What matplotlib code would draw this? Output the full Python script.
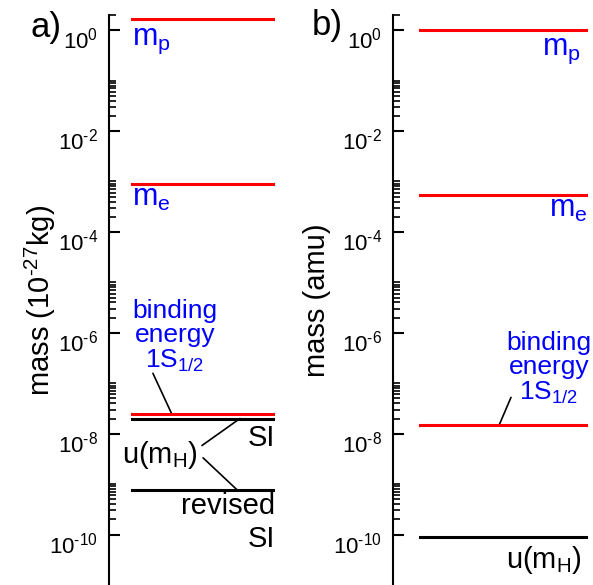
import numpy as np
import matplotlib
matplotlib.use('Agg')
from matplotlib import pyplot as plt
from matplotlib import transforms
from matplotlib.ticker import FixedLocator, FuncFormatter

plt.rcParams['font.family'] = ['Liberation Sans', 'DejaVu Sans']
plt.rcParams['mathtext.fontset'] = 'custom'
plt.rcParams['mathtext.rm'] = 'Liberation Sans'
plt.rcParams['mathtext.it'] = 'Liberation Sans:italic'

# data: panel a in 10^-27 kg, panel b in amu
mp_kg = 1.6726
me_kg = 9.11e-4
bind_kg = 2.42e-8
uh_si_kg = 2.0e-8
uh_rev_kg = 7.7e-10

mp_amu = 1.00728
me_amu = 5.486e-4
bind_amu = 1.46e-8
uh_amu = 9.1e-11

major_ticks = [1e0, 1e-2, 1e-4, 1e-6, 1e-8, 1e-10]
minor_ticks = []
for k in [1, -1, -3, -5, -7, -9]:
    minor_ticks += [j * 10.0**(k - 1) for j in range(2, 10)] + [10.0**k]

RED = '#ff0000'
BLUE = '#0000ff'
HY = '\u2010'  # short hyphen instead of the long math minus

fig = plt.figure(figsize=(5.93, 5.85), dpi=100)
H = 585.0
W = 593.0


def fmt(v, p):
    e = int(round(np.log10(v)))
    s = str(e).replace('-', HY)
    return r'$\mathregular{10^{%s}}$' % s


def setup(ax, label, lab_x):
    ax.set_yscale('log')
    ax.set_ylim(1e-11, 2)
    ax.set_xlim(0, 1)
    ax.xaxis.set_visible(False)
    for s in ['top', 'right', 'bottom']:
        ax.spines[s].set_visible(False)
    ax.spines['left'].set_linewidth(1.5)
    ax.yaxis.set_major_locator(FixedLocator(major_ticks))
    ax.yaxis.set_minor_locator(FixedLocator(minor_ticks))
    ax.yaxis.set_major_formatter(FuncFormatter(fmt))
    ax.yaxis.set_minor_formatter(FuncFormatter(lambda v, p: ''))
    ax.tick_params(axis='y', which='major', direction='in', length=8, width=1.5, labelsize=16, pad=8)
    ax.tick_params(axis='y', which='minor', direction='in', length=5, width=1.2)
    ax.patch.set_visible(False)
    ax.set_ylabel(label, fontsize=21)
    ax.yaxis.set_label_coords(lab_x, 0.5)
    off = transforms.ScaledTranslation(0, -8 / 100, fig.dpi_scale_trans)
    for t in ax.get_yticklabels():
        t.set_transform(t.get_transform() + off)


def pt(px):
    return px * 0.72


line_kw = dict(arrowstyle='-', lw=1.2, color='black', shrinkA=0, shrinkB=0)

# ---- panel a ----
axa = fig.add_axes([109 / W, 0, 171 / W, 570 / H])
setup(axa, r'mass ($\mathregular{10^{%s27}}$kg)' % HY, -0.30)
ta = transforms.blended_transform_factory(axa.transAxes, axa.transData)
x0, x1 = 0.135, 0.959
axa.axhline(mp_kg, x0, x1, color=RED, lw=2.2)
axa.axhline(me_kg, x0, x1, color=RED, lw=2.2)
axa.axhline(uh_si_kg, x0, x1, color='black', lw=2.2, zorder=3)
axa.axhline(bind_kg, x0, x1, color=RED, lw=2.2, zorder=4)
axa.axhline(uh_rev_kg, x0, x1, color='black', lw=2.2)

axa.annotate(r'm$_\mathregular{p}$', xy=(x0, mp_kg), xycoords=ta, xytext=(0, pt(-26)),
             textcoords='offset points', ha='left', va='baseline', color=BLUE, fontsize=22)
axa.annotate(r'm$_\mathregular{e}$', xy=(x0, me_kg), xycoords=ta, xytext=(0, pt(-22)),
             textcoords='offset points', ha='left', va='baseline', color=BLUE, fontsize=22)
axa.annotate('binding\nenergy\n1S$_\\mathregular{1/2}$', xy=(0.386, bind_kg), xycoords=ta,
             xytext=(0, pt(47)), textcoords='offset points', ha='center', va='baseline',
             multialignment='center', color=BLUE, fontsize=19, linespacing=1.0)
axa.annotate('', xy=(0.368, bind_kg), xycoords=ta, xytext=(pt(-19), pt(41)),
             textcoords='offset points', arrowprops=line_kw, zorder=2)
axa.annotate('SI', xy=(0.971, uh_si_kg), xycoords=ta, xytext=(0, pt(-27)),
             textcoords='offset points', ha='right', va='baseline', fontsize=21)
axa.annotate('revised\nSI', xy=(0.971, uh_rev_kg), xycoords=ta, xytext=(0, pt(-57)),
             textcoords='offset points', ha='right', va='baseline', multialignment='right',
             fontsize=21, linespacing=1.2)
axa.text(0.076, (H - 463) / 570, r'u(m$_\mathregular{H}$)', transform=axa.transAxes,
         ha='left', va='baseline', fontsize=21)
axa.annotate('', xy=(0.766, uh_si_kg), xycoords=ta, xytext=(pt(-38), pt(-27)),
             textcoords='offset points', arrowprops=line_kw)
axa.annotate('', xy=(0.749, uh_rev_kg), xycoords=ta, xytext=(pt(-34), pt(32)),
             textcoords='offset points', arrowprops=line_kw)

# ---- panel b ----
axb = fig.add_axes([393 / W, 0, 200 / W, 570 / H])
setup(axb, 'mass (amu)', -0.31)
tb = transforms.blended_transform_factory(axb.transAxes, axb.transData)
x0, x1 = 0.135, 0.965
axb.axhline(mp_amu, x0, x1, color=RED, lw=2.2)
axb.axhline(me_amu, x0, x1, color=RED, lw=2.2)
axb.axhline(bind_amu, x0, x1, color=RED, lw=2.2, zorder=4)
axb.axhline(uh_amu, x0, x1, color='black', lw=2.2)

axb.annotate(r'm$_\mathregular{p}$', xy=(0.94, mp_amu), xycoords=tb, xytext=(0, pt(-25)),
             textcoords='offset points', ha='right', va='baseline', color=BLUE, fontsize=22)
axb.annotate(r'm$_\mathregular{e}$', xy=(0.975, me_amu), xycoords=tb, xytext=(0, pt(-22)),
             textcoords='offset points', ha='right', va='baseline', color=BLUE, fontsize=22)
axb.annotate('binding\nenergy\n1S$_\\mathregular{1/2}$', xy=(0.78, bind_amu), xycoords=tb,
             xytext=(0, pt(26)), textcoords='offset points', ha='center', va='baseline',
             multialignment='center', color=BLUE, fontsize=19, linespacing=1.0,
             annotation_clip=False)
axb.annotate('', xy=(0.53, bind_amu), xycoords=tb, xytext=(pt(12), pt(28)),
             textcoords='offset points', arrowprops=line_kw, zorder=2)
axb.annotate(r'u(m$_\mathregular{H}$)', xy=(0.945, uh_amu), xycoords=tb, xytext=(0, pt(-31)),
             textcoords='offset points', ha='right', va='baseline', fontsize=21)

fig.text(30 / W, 1 - 37 / H, 'a)', fontsize=25, va='baseline', ha='left')
fig.text(312 / W, 1 - 35 / H, 'b)', fontsize=25, va='baseline', ha='left')

fig.savefig('out.png', dpi=100)
